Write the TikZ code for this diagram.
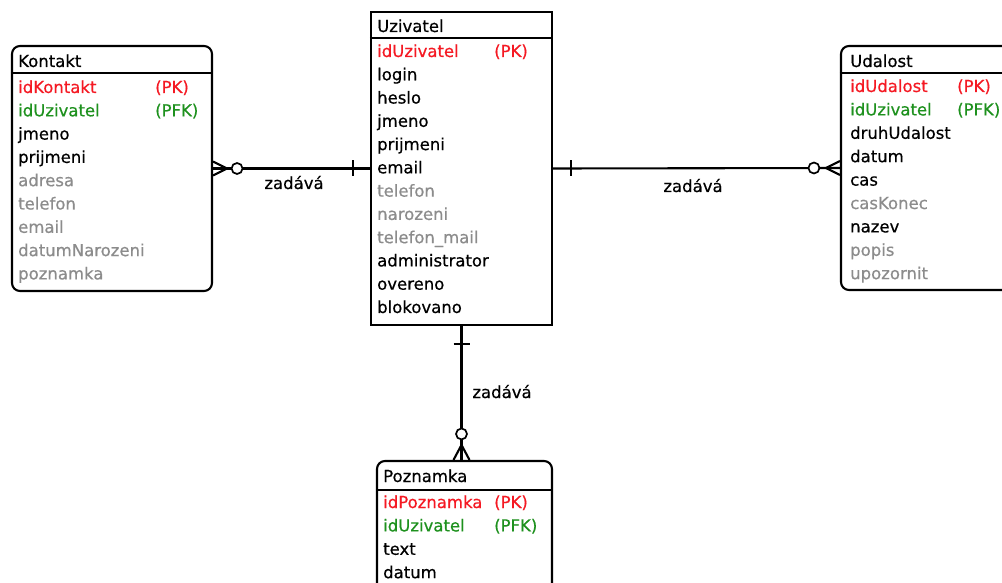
\documentclass[tikz,border=0pt]{standalone}
\usepackage{fontspec}
\setmainfont{DejaVu Sans}
\newfontfamily\erfont{DejaVu Sans}[FakeBold=0.5]
\definecolor{pkred}{RGB}{245,25,35}
\definecolor{fkgreen}{RGB}{30,145,30}
\definecolor{optgray}{RGB}{140,140,140}
\begin{document}
\begin{tikzpicture}[x=1pt,y=-1pt,
  ent/.style={draw, line width=2.1pt, inner sep=0pt},
  weak/.style={ent, rounded corners=8pt},
  sep/.style={line width=2.1pt},
  txt/.style={anchor=base west, inner sep=0pt, font=\erfont\fontsize{16.5}{18}\selectfont},
  lbl/.style={anchor=base, inner sep=0pt, font=\erfont\fontsize{16.5}{18}\selectfont},
  conn/.style={line width=2.1pt},
  circ/.style={circle, draw, fill=white, line width=1.7pt, minimum size=11pt, inner sep=0pt}]
\useasboundingbox (0,0) rectangle (1002,583);
\clip (0,0) rectangle (1002,583);
\fill[white] (0,0) rectangle (1002,583);

% entity boxes
\node[weak, minimum width=200pt, minimum height=245pt] (kontakt) at (112,168.5) {};
\node[ent, minimum width=181pt, minimum height=313pt] (uzivatel) at (461.5,168.5) {};
\node[weak, minimum width=189pt, minimum height=244pt] (udalost) at (935.5,168) {};
\node[weak, minimum width=175pt, minimum height=179pt] (poznamka) at (464.5,550.5) {};

% header separators
\draw[sep] (kontakt.west |- 0,73) -- (kontakt.east |- 0,73);
\draw[sep] (uzivatel.west |- 0,38) -- (uzivatel.east |- 0,38);
\draw[sep] (udalost.west |- 0,73) -- (udalost.east |- 0,73);
\draw[sep] (poznamka.west |- 0,490) -- (poznamka.east |- 0,490);

% Kontakt
\node[txt] (kt) at (18,67) {Kontakt};
\foreach \t/\c [count=\i from 0] in {idKontakt/pkred, idUzivatel/fkgreen, jmeno/black, prijmeni/black, adresa/optgray, telefon/optgray, email/optgray, datumNarozeni/optgray, poznamka/optgray}
  \node[txt, text=\c] (k\i) at (18,{93+23.3*\i}) {\t};
\node[txt, text=pkred] (kpk) at (155,93) {(PK)};
\node[txt, text=fkgreen] (kfk) at (155,116.3) {(PFK)};

% Uzivatel
\node[txt] (ut) at (377,32) {Uzivatel};
\foreach \t/\c [count=\i from 0] in {idUzivatel/pkred, login/black, heslo/black, jmeno/black, prijmeni/black, email/black, telefon/optgray, narozeni/optgray, telefon\_mail/optgray, administrator/black, overeno/black, blokovano/black}
  \node[txt, text=\c] (u\i) at (377,{57+23.27*\i}) {\t};
\node[txt, text=pkred] (upk) at (494,57) {(PK)};

% Udalost
\node[txt] (dt) at (850,67) {Udalost};
\foreach \t/\c [count=\i from 0] in {idUdalost/pkred, idUzivatel/fkgreen, druhUdalost/black, datum/black, cas/black, casKonec/optgray, nazev/black, popis/optgray, upozornit/optgray}
  \node[txt, text=\c] (d\i) at (850,{92+23.4*\i}) {\t};
\node[txt, text=pkred] (dpk) at (957,92) {(PK)};
\node[txt, text=fkgreen] (dfk) at (957,115.4) {(PFK)};

% Poznamka
\node[txt] (pt) at (383,482) {Poznamka};
\foreach \t/\c [count=\i from 0] in {idPoznamka/pkred, idUzivatel/fkgreen, text/black, datum/black}
  \node[txt, text=\c] (p\i) at (383,{508+23.4*\i}) {\t};
\node[txt, text=pkred] (ppk) at (494,508) {(PK)};
\node[txt, text=fkgreen] (pfk) at (494,531.4) {(PFK)};

% Kontakt -- Uzivatel
\draw[conn] (kontakt.east) -- (uzivatel.west);
\draw[conn] ([yshift=7pt]kontakt.east) -- ([xshift=14pt]kontakt.east) -- ([yshift=-7pt]kontakt.east);
\node[circ] (c1) at ([xshift=24pt]kontakt.east) {};
\draw[conn] ([xshift=-17pt,yshift=8pt]uzivatel.west) -- ([xshift=-17pt,yshift=-8pt]uzivatel.west);
\node[lbl] (l1) at (294,189) {zadává};

% Uzivatel -- Udalost
\draw[conn] (uzivatel.east) -- (udalost.west);
\draw[conn] ([yshift=7pt]udalost.west) -- ([xshift=-14pt]udalost.west) -- ([yshift=-7pt]udalost.west);
\node[circ] (c2) at ([xshift=-26pt]udalost.west) {};
\draw[conn] ([xshift=18pt,yshift=8pt]uzivatel.east) -- ([xshift=18pt,yshift=-8pt]uzivatel.east);
\node[lbl] (l2) at (693,192) {zadává};

% Uzivatel -- Poznamka
\coordinate (pin) at (uzivatel.south |- poznamka.north);
\draw[conn] (uzivatel.south) -- (pin);
\draw[conn] ([xshift=-8pt]pin) -- ([yshift=15pt]pin) -- ([xshift=8pt]pin);
\node[circ] (c3) at ([yshift=26pt]pin) {};
\draw[conn] ([xshift=-8pt,yshift=-18pt]uzivatel.south) -- ([xshift=8pt,yshift=-18pt]uzivatel.south);
\node[lbl] (l3) at (502,398) {zadává};
\end{tikzpicture}
\end{document}
